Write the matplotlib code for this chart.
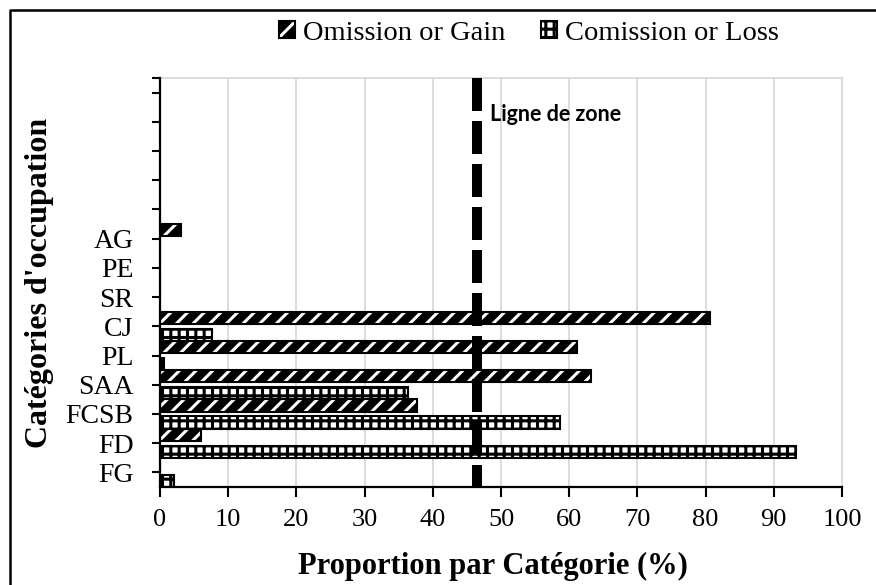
import numpy as np
import matplotlib.pyplot as plt
from matplotlib.patches import Patch
from matplotlib.lines import Line2D

# categories shown on the y axis (placed on the tick marks, bottom to top)
categories = ["FG", "FD", "FCSB", "SAA", "PL", "CJ", "SR", "PE", "AG"]
n_slots = 14  # the axis has room for 14 slots, the upper ones are empty

# values per slot (slot 0 = bottom), in %
omission = [0, 0, 6.0, 37.7, 63.2, 61.2, 80.7, 0, 0, 3.1]
comission = [2.1, 93.3, 58.7, 36.3, 0.6, 7.6, 0, 0, 0, 0]

zone_line = 46.5
zone_label = "Ligne de zone"


def main():
    plt.rcParams["hatch.linewidth"] = 2.2
    serif = "Liberation Serif"

    fig = plt.figure(figsize=(8.76, 5.85), dpi=100)
    ax = fig.add_axes([160 / 876, 1 - 487 / 585, 682 / 876, 409 / 585])

    slots = np.arange(len(omission))
    h = 0.42

    # omission / gain : black with white diagonal strokes
    ax.barh(slots - h / 2, omission, height=h, color="black",
            edgecolor="white", hatch="//", linewidth=0, zorder=3)
    ax.barh(slots - h / 2, omission, height=h, facecolor="none",
            edgecolor="black", linewidth=1.5, zorder=4)

    # comission / loss : white with black checker
    ax.barh(slots + h / 2, comission, height=h, color="white",
            edgecolor="black", hatch="++", linewidth=0, zorder=3)
    ax.barh(slots + h / 2, comission, height=h, facecolor="none",
            edgecolor="black", linewidth=1.5, zorder=4)

    # zone line
    ax.plot([zone_line, zone_line], [n_slots, 0], color="black", lw=7.2,
            linestyle=(0, (3.3, 1.0)), solid_capstyle="butt",
            dash_capstyle="butt", zorder=6)
    ax.text(zone_line + 1.9, 12.75, zone_label, fontfamily="Lato",
            fontweight="bold", fontsize=15.5, va="center", ha="left", zorder=7)

    ax.set_xlim(0, 100)
    ax.set_ylim(0, n_slots)
    ax.set_xticks(np.arange(0, 101, 10))
    ticks = list(np.arange(0.5, n_slots, 1)) + [n_slots]
    labels = categories + [""] * (len(ticks) - len(categories))
    ax.set_yticks(ticks)
    ax.set_yticklabels(labels)

    ax.grid(axis="x", color="#d9d9d9", linewidth=1.3, zorder=0)
    ax.set_axisbelow(True)
    for s in ["top", "right"]:
        ax.spines[s].set_color("#d9d9d9")
        ax.spines[s].set_linewidth(1.3)
    for s in ["left", "bottom"]:
        ax.spines[s].set_color("black")
        ax.spines[s].set_linewidth(1.6)
        ax.spines[s].set_zorder(8)

    ax.tick_params(axis="x", direction="out", length=7, width=1.5,
                   labelsize=19, pad=9)
    ax.tick_params(axis="y", direction="out", length=6, width=1.5,
                   labelsize=20, pad=13)
    for lab in ax.get_xticklabels() + ax.get_yticklabels():
        lab.set_fontfamily(serif)

    ax.set_xlabel("Proportion par Catégorie (%)", fontfamily=serif,
                  fontweight="bold", fontsize=22)
    ax.xaxis.set_label_coords(0.4875, -0.158)
    ax.set_ylabel("Catégories d'occupation", fontfamily=serif,
                  fontweight="bold", fontsize=23, labelpad=8)

    # legend
    h_om = (Patch(facecolor="black", edgecolor="white", hatch="//", lw=0),
            Patch(facecolor="none", edgecolor="black", lw=1.5))
    h_co = (Patch(facecolor="white", edgecolor="black", hatch="++", lw=0),
            Patch(facecolor="none", edgecolor="black", lw=1.5))
    fig.legend([h_om, h_co], ["Omission or Gain", "Comission or Loss"],
               loc="center", bbox_to_anchor=(529 / 876, 1 - 33 / 585),
               ncol=2, frameon=False, prop={"family": serif, "size": 20.5},
               handlelength=0.55, handleheight=0.55, handletextpad=0.3,
               columnspacing=1.25)

    # chart frame (only top and left edges are inside the picture)
    fig.add_artist(Line2D([10 / 876, 10 / 876, 1.01], [-0.01, 1 - 10 / 585, 1 - 10 / 585],
                          transform=fig.transFigure, color="black", lw=1.8))

    fig.savefig("out.png", dpi=100)


if __name__ == "__main__":
    main()
